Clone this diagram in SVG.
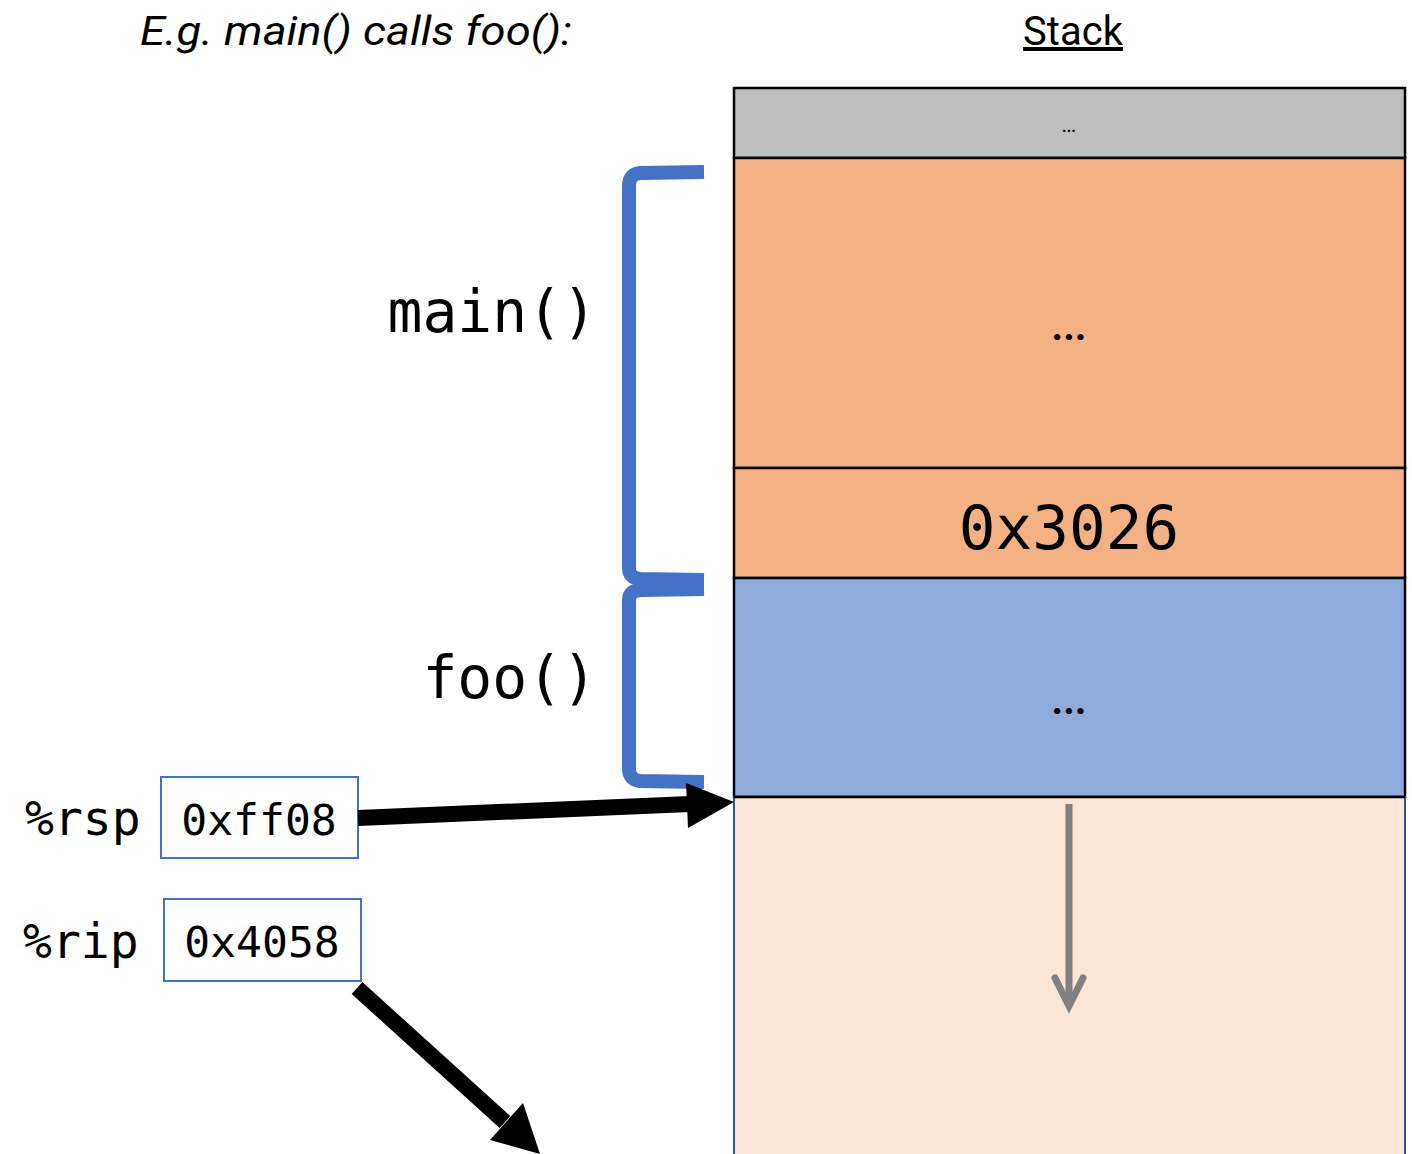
<svg xmlns="http://www.w3.org/2000/svg" width="1412" height="1154" viewBox="0 0 1412 1154">
<style>
.mono{font-family:"DejaVu Sans Mono","Liberation Mono",monospace;fill:#000}
.sans{font-family:"Roboto","Liberation Sans",sans-serif;fill:#000}
.cell{stroke:#000;stroke-width:2.5}
.brace{fill:none;stroke:#4472C4;stroke-width:14;stroke-linejoin:round}
.reg{fill:#fff;stroke:#4472C4;stroke-width:2}
</style>
<text class="sans" x="140" y="45" font-size="40" font-style="italic" textLength="432" lengthAdjust="spacingAndGlyphs">E.g. main() calls foo():</text>
<text class="sans" x="1073" y="45" font-size="40" text-anchor="middle" text-decoration="underline">Stack</text>

<g id="stack">
<g id="cell-top"><rect class="cell" x="734" y="88" width="671" height="70" fill="#BFBFBF"/><text class="sans" x="1069" y="132" font-size="16" text-anchor="middle" font-weight="bold">...</text></g>
<g id="cell-main"><rect class="cell" x="734" y="158" width="671" height="310" fill="#F4B183"/><text class="sans" x="1069" y="340" font-size="40" text-anchor="middle" font-weight="bold">...</text></g>
<g id="cell-ret"><rect class="cell" x="734" y="468" width="671" height="110" fill="#F4B183"/><text class="mono" x="1069" y="549" font-size="61" text-anchor="middle">0x3026</text></g>
<g id="cell-foo"><rect class="cell" x="734" y="578" width="671" height="219" fill="#8FAADC"/><text class="sans" x="1069" y="714" font-size="40" text-anchor="middle" font-weight="bold">...</text></g>
<g id="cell-free"><rect x="734" y="797" width="671" height="360" fill="#FBE5D6" stroke="#2F5597" stroke-width="2"/><line x1="734" y1="797" x2="1405" y2="797" stroke="#000" stroke-width="2.5"/></g>
</g>

<g id="braces">
<path class="brace" d="M704,172 L640,173 Q629,174 629,186 L629,568 Q629,578 640,579 L704,580"/>
<path class="brace" d="M704,589 L640,590 Q629,591 629,600 L629,768 Q629,780 640,781 L704,782"/>
</g>

<text class="mono" x="597" y="332" font-size="58" text-anchor="end">main()</text>
<text class="mono" x="597" y="698" font-size="58" text-anchor="end">foo()</text>

<g id="rsp">
<text class="mono" x="25" y="835" font-size="48">%rsp</text>
<rect class="reg" x="161" y="777" width="197" height="81"/>
<text class="mono" x="259" y="835" font-size="43" text-anchor="middle">0xff08</text>
</g>
<g id="rip">
<text class="mono" x="23" y="958" font-size="48">%rip</text>
<rect class="reg" x="164" y="899" width="197" height="82"/>
<text class="mono" x="262" y="957" font-size="43" text-anchor="middle">0x4058</text>
</g>

<g id="connectors">
<path d="M358,818 L690,804" stroke="#000" stroke-width="16" fill="none"/>
<path d="M686,783 L734,802 L688,828 Z" fill="#000"/>
<path d="M357,988 L505,1122" stroke="#000" stroke-width="16" fill="none"/>
<path d="M490,1140 L540,1154 L523,1103 Z" fill="#000"/>
<path d="M1069,804 L1069,1004" stroke="#808080" stroke-width="7" fill="none"/>
<path d="M1055,978 L1069,1006 L1083,978" stroke="#808080" stroke-width="7" fill="none" stroke-linecap="round" stroke-linejoin="miter"/>
</g>
</svg>
